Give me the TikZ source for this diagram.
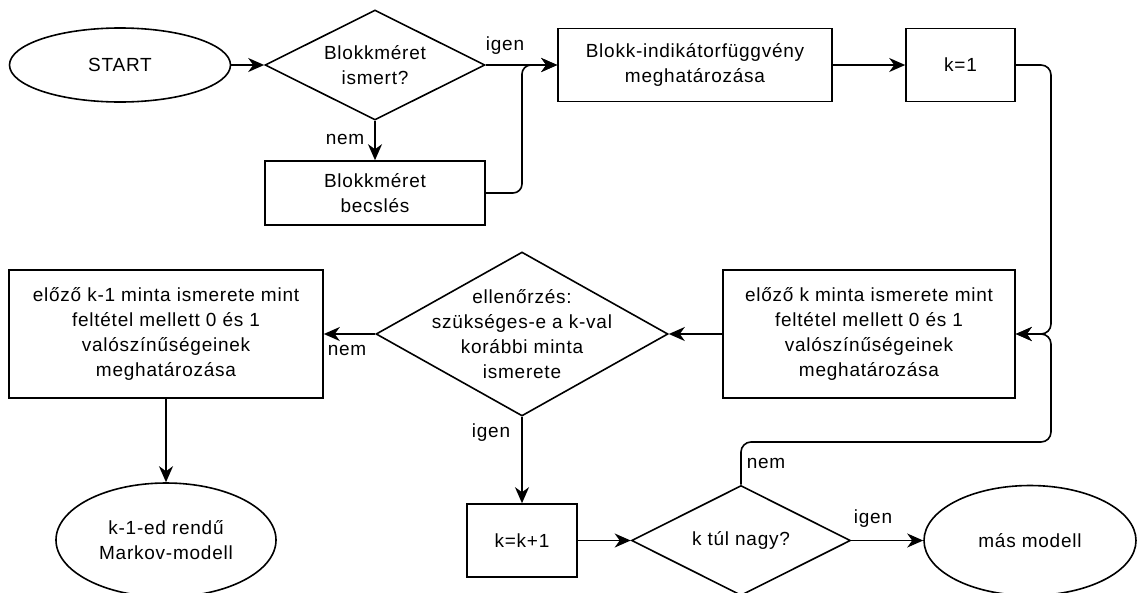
\documentclass[tikz,border=0pt]{standalone}
\usepackage{fontspec}
\setmainfont{Liberation Sans}[LetterSpace=4]
\usetikzlibrary{shapes.geometric,arrows.meta,calc}
\tikzset{
  base/.style={draw=black, line width=1.6pt, inner sep=0pt, font=\fontsize{19}{25}\selectfont, align=center},
  boxn/.style={base, rectangle},
  ellip/.style={base, ellipse},
  diam/.style={base, diamond},
  conn/.style={line width=1.6pt, -{Stealth[length=16pt,width=14pt,inset=5pt]}},
  lbl/.style={font=\fontsize{19}{25}\selectfont, inner sep=0pt}
}
\begin{document}
\begin{tikzpicture}[x=1pt,y=-1pt]
\useasboundingbox (0,0) rectangle (1137,592);
% nodes
\node[ellip, minimum width=221, minimum height=74] (start) at (120,65) {START};
\node[diam, minimum width=220, minimum height=110] (d1) at (375,65) {};
\node[lbl, align=center] at (d1) {Blokkméret\\ismert?};
\node[boxn, minimum width=274, minimum height=73] (bi) at (695,65) {Blokk-indikátorfüggvény\\meghatározása};
\node[boxn, minimum width=109, minimum height=73] (k1) at (960.5,65) {k=1};
\node[boxn, minimum width=220, minimum height=64] (becs) at (375,193) {Blokkméret\\becslés};
\node[boxn, minimum width=292, minimum height=128] (ek) at (869,334) {előző k minta ismerete mint\\feltétel mellett 0 és 1\\valószínűségeinek\\meghatározása};
\node[diam, minimum width=292, minimum height=164] (d2) at (522,334) {};
\node[lbl, align=center] at (d2) {ellenőrzés:\\szükséges-e a k-val\\korábbi minta\\ismerete};
\node[boxn, minimum width=314, minimum height=128] (em1) at (166,334) {előző k-1 minta ismerete mint\\feltétel mellett 0 és 1\\valószínűségeinek\\meghatározása};
\node[ellip, minimum width=220, minimum height=114] (markov) at (166,540) {k-1-ed rendű\\Markov-modell};
\node[boxn, minimum width=110, minimum height=73] (kk) at (522,540.5) {k=k+1};
\node[diam, minimum width=219, minimum height=110] (d3) at (741,540.5) {};
\node[lbl] at (d3) {k túl nagy?};
\node[ellip, minimum width=212, minimum height=110] (mas) at (1030,540.5) {más modell};
% helper coordinates
\coordinate (j1) at (522,65);
\coordinate (rj) at (1051,334);
\coordinate (rb) at (1051,442);
% connectors
\draw[conn] (start.east) -- (d1.west);
\draw[conn] (d1.east) -- (bi.west);
\draw[conn] (d1.south) -- (becs.north);
\draw[conn, rounded corners=9pt] (becs.east) -| (j1) -- (bi.west);
\draw[conn] (bi.east) -- (k1.west);
\draw[conn, rounded corners=10pt] (k1.east) -| (rj) -- (ek.east);
\draw[conn, rounded corners=10pt] (d3.north) |- (rb) -- (rj) -- (ek.east);
\draw[conn] (ek.west) -- (d2.east);
\draw[conn] (d2.west) -- (em1.east);
\draw[conn] (em1.south) -- (markov.north);
\draw[conn] (d2.south) -- (kk.north);
\draw[conn] (kk.east) -- (d3.west);
\draw[conn] (d3.east) -- (mas.west);
% labels
\node[lbl] (l1) at (505,46) {igen};
\node[lbl] (l2) at (345,139) {nem};
\node[lbl] (l3) at (347,350) {nem};
\node[lbl] (l4) at (491,433) {igen};
\node[lbl] (l5) at (766,463) {nem};
\node[lbl] (l6) at (873,519) {igen};
\end{tikzpicture}
\end{document}
